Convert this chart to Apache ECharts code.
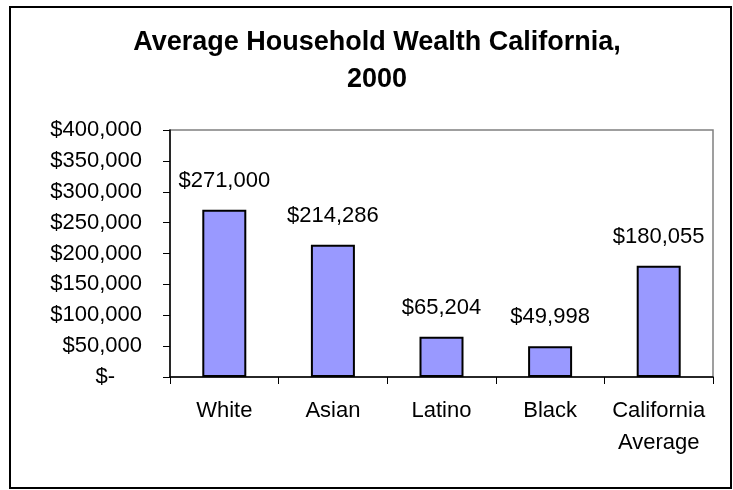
<!DOCTYPE html>
<html>
<head>
<meta charset="utf-8">
<script src="https://cdn.jsdelivr.net/npm/echarts@6/dist/echarts.min.js"></script>
<style>
  html, body { margin: 0; padding: 0; background: #fff; }
  #chart { width: 733px; height: 490px; }
</style>
</head>
<body>
<div id="chart"></div>
<script>
// Average household wealth by group, California 2000
const categories = ['White', 'Asian', 'Latino', 'Black', 'California\nAverage'];
const wealth = [271000, 214286, 65204, 49998, 180055];
const yTicks = { min: 0, max: 400000, step: 50000 };

const FONT = '"Liberation Sans", Arial, sans-serif';
const money = v => '$' + v.toLocaleString('en-US');

const chart = echarts.init(document.getElementById('chart'), null, { renderer: 'canvas' });

chart.setOption({
  backgroundColor: '#ffffff',
  animation: false,
  title: {
    text: 'Average Household Wealth California,\n2000',
    left: 372,
    top: 19,
    textAlign: 'center',
    textStyle: {
      fontFamily: FONT,
      fontWeight: 'bold',
      fontSize: 27,
      lineHeight: 37,
      color: '#000'
    }
  },
  graphic: [{
    type: 'rect',
    shape: { x: 10, y: 7, width: 721, height: 481 },
    style: { fill: 'none', stroke: '#000', lineWidth: 2 },
    z: 100
  }],
  grid: {
    left: 170, right: 20, top: 130, bottom: 113,
    show: true,
    borderColor: '#808080',
    borderWidth: 1.5,
    backgroundColor: '#fff'
  },
  xAxis: {
    type: 'category',
    data: categories,
    axisLine: { lineStyle: { color: '#000', width: 1.5 } },
    axisTick: { show: true, length: 7, lineStyle: { color: '#000', width: 1 } },
    axisLabel: {
      fontFamily: FONT,
      fontSize: 22,
      lineHeight: 32,
      color: '#000',
      margin: 18,
      interval: 0
    }
  },
  yAxis: {
    type: 'value',
    min: yTicks.min,
    max: yTicks.max,
    interval: yTicks.step,
    splitLine: { show: false },
    axisLine: { show: true, lineStyle: { color: '#000', width: 1.5 } },
    axisTick: { show: true, length: 7, lineStyle: { color: '#000', width: 1 } },
    axisLabel: {
      fontFamily: FONT,
      fontSize: 22,
      color: '#000',
      margin: 28,
      formatter: v => v === 0 ? '{z|$-}' : money(v),
      rich: {
        z: { fontFamily: FONT, fontSize: 22, color: '#000', padding: [0, 27, 0, 0] }
      }
    }
  },
  series: [{
    type: 'bar',
    data: wealth,
    barWidth: 44,
    itemStyle: { color: '#9999FF', borderColor: '#000', borderWidth: 2 },
    label: {
      show: true,
      position: 'top',
      distance: 16,
      fontFamily: FONT,
      fontSize: 22,
      lineHeight: 26,
      color: '#000',
      formatter: p => money(p.value)
    }
  }]
});
</script>
</body>
</html>
